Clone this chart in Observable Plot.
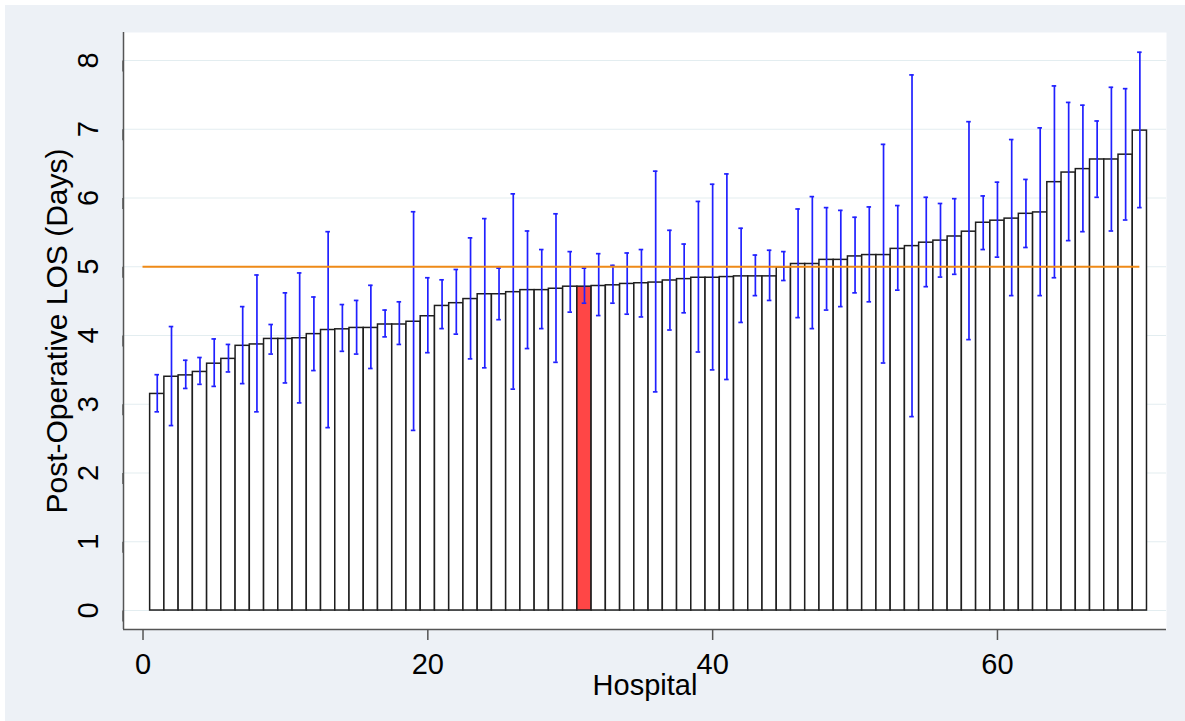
<!DOCTYPE html>
<html><head><meta charset="utf-8">
<script src="https://cdn.jsdelivr.net/npm/d3@7"></script>
<script src="https://cdn.jsdelivr.net/npm/@observablehq/plot@0.6"></script>
<style>
html,body{margin:0;padding:0;background:#fff;}
#chart{position:absolute;left:5px;top:5px;}
#chart svg{display:block;}
</style></head><body><div id="chart"></div>
<script>
const hospitals = [1,2,3,4,5,6,7,8,9,10,11,12,13,14,15,16,17,18,19,20,21,22,23,24,25,26,27,28,29,30,31,32,33,34,35,36,37,38,39,40,41,42,43,44,45,46,47,48,49,50,51,52,53,54,55,56,57,58,59,60,61,62,63,64,65,66,67,68,69,70];
const los = [3.15,3.40,3.42,3.47,3.59,3.66,3.85,3.87,3.95,3.95,3.96,4.02,4.08,4.09,4.11,4.11,4.16,4.16,4.20,4.28,4.43,4.47,4.53,4.60,4.60,4.63,4.66,4.66,4.68,4.71,4.71,4.72,4.73,4.75,4.76,4.77,4.80,4.82,4.84,4.84,4.85,4.86,4.86,4.86,4.99,5.04,5.04,5.10,5.10,5.15,5.17,5.17,5.26,5.30,5.35,5.38,5.44,5.51,5.64,5.67,5.70,5.77,5.79,6.23,6.37,6.42,6.56,6.56,6.63,6.98];
const ciLow = [2.89,2.69,3.23,3.29,3.26,3.47,3.30,2.89,3.73,3.31,3.02,3.49,2.66,3.77,3.73,3.52,3.98,3.87,2.62,3.75,4.10,4.02,3.66,3.53,4.23,3.22,3.81,4.10,3.61,4.34,4.47,4.29,4.47,4.31,4.27,3.18,4.08,4.33,3.76,3.50,3.36,4.19,4.58,4.51,4.80,4.26,4.10,4.37,4.42,4.62,4.49,3.60,4.66,2.82,4.71,4.85,4.89,3.94,5.25,5.14,4.58,5.28,4.58,4.84,5.38,5.51,6.01,5.52,5.68,5.86];
const ciHigh = [3.43,4.13,3.64,3.68,3.95,3.87,4.42,4.88,4.16,4.62,4.91,4.56,5.51,4.45,4.51,4.73,4.37,4.49,5.80,4.84,4.81,4.96,5.42,5.70,4.98,6.06,5.52,5.25,5.77,5.22,4.98,5.19,5.02,5.20,5.25,6.39,5.53,5.33,5.95,6.20,6.35,5.56,5.17,5.24,5.22,5.84,6.02,5.86,5.82,5.72,5.87,6.78,5.89,7.79,6.01,5.92,5.99,7.11,6.03,6.23,6.85,6.27,7.02,7.63,7.39,7.35,7.12,7.61,7.59,8.12];
const highlighted = 31;
const reference = 5;
const refSpan = [0, 70];
const yTicks = [0,1,2,3,4,5,6,7,8];
const xTicks = [0,20,40,60];
const xTitle = "Hospital";
const yTitle = "Post-Operative LOS (Days)";

const data = hospitals.map((h, i) => ({h, v: los[i], lo: ciLow[i], hi: ciHigh[i]}));
const xDomain = [-1.37, 71.87];
const yDomain = [-0.276, 8.407];
const font = "'Liberation Sans', Arial, sans-serif";
const axisColor = "#555";
const blue = "#2020ff";

const chart = Plot.plot({
  width: 1180, height: 716,
  marginLeft: 118, marginTop: 27, marginRight: 19, marginBottom: 92,
  style: {background: "#edf1f6", fontFamily: font, fontSize: "29px", color: "#000", overflow: "visible"},
  x: {domain: xDomain},
  y: {domain: yDomain},
  marks: [
    Plot.frame({fill: "white", stroke: null}),
    Plot.gridY(yTicks, {stroke: "#e3edf0", strokeOpacity: 1, strokeWidth: 1.2}),
    Plot.rectY(data, {
      x1: d => d.h - 0.5, x2: d => d.h + 0.5, y1: 0, y2: "v",
      fill: d => d.h === highlighted ? "#ff4646" : "white",
      stroke: "#1e1e1e", strokeWidth: 1.5
    }),
    Plot.ruleX(data, {x: "h", y1: "lo", y2: "hi", stroke: blue, strokeWidth: 1.7}),
    Plot.ruleY(data, {y: "lo", x1: d => d.h - 0.16, x2: d => d.h + 0.16, stroke: blue, strokeWidth: 1.7}),
    Plot.ruleY(data, {y: "hi", x1: d => d.h - 0.16, x2: d => d.h + 0.16, stroke: blue, strokeWidth: 1.7}),
    Plot.ruleY([reference], {x1: refSpan[0], x2: refSpan[1], stroke: "#ef8a17", strokeWidth: 2.2}),
    Plot.ruleX([xDomain[0]], {stroke: axisColor, strokeWidth: 1.5}),
    Plot.ruleY([yDomain[0]], {stroke: axisColor, strokeWidth: 1.5}),
    Plot.axisY(yTicks, {
      tickSize: 11, tickPadding: 24, rotate: -90, textAnchor: "middle", tickFormat: d3.format("d"),
      fontSize: 29, stroke: axisColor, strokeWidth: 1.5, fill: "#000", label: null
    }),
    Plot.axisX(xTicks, {
      tickSize: 11, tickPadding: 13, fontSize: 29, tickFormat: d3.format("d"),
      stroke: axisColor, strokeWidth: 1.5, fill: "#000", label: null
    }),
    Plot.text([xTitle], {frameAnchor: "bottom", textAnchor: "middle", dy: 65, fontSize: 29, fill: "#000"}),
    Plot.text([yTitle], {frameAnchor: "left", textAnchor: "middle", dx: -66, rotate: -90, fontSize: 30, fill: "#000"})
  ]
});
document.getElementById("chart").appendChild(chart);
</script>
</body></html>
